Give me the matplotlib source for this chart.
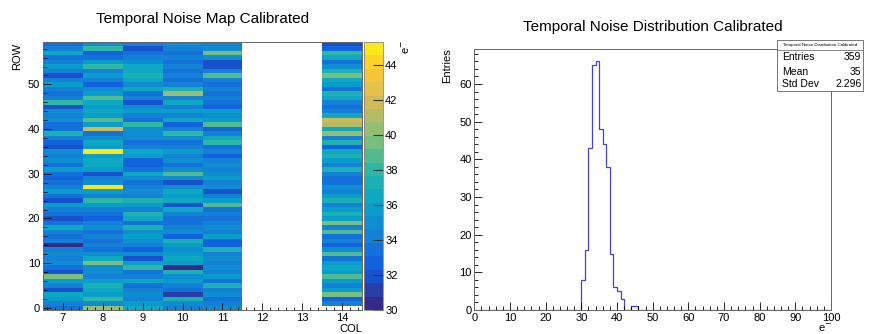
import numpy as np
import matplotlib
matplotlib.use("Agg")
import matplotlib.pyplot as plt
from matplotlib.colors import LinearSegmentedColormap, ListedColormap, BoundaryNorm
from matplotlib.patches import Rectangle
from matplotlib.lines import Line2D
from matplotlib.ticker import MultipleLocator

plt.rcParams['font.family'] = ['Liberation Sans', 'DejaVu Sans']

nan = np.nan

# ---------------- temporal noise map (e-), one list per column, rows 0..59 ----------------
columns = [7, 8, 9, 10, 11, 12, 13, 14]
n_rows = 60

noise_col7 = [33.3, 33.9, 35.6, 36.3, 32.0, 33.9, 35.6, 39.6, 32.0, 33.3,
              35.0, 33.9, 35.0, 34.5, 30.6, 33.9, 33.3, 33.9, 36.3, 33.8,
              32.0, 33.3, 33.9, 35.6, 32.1, 33.4, 35.6, 33.9, 33.8, 32.8,
              33.3, 35.6, 33.3, 35.0, 33.9, 35.0, 32.0, 32.8, 33.9, 36.9,
              33.3, 33.4, 35.0, 33.9, 35.0, 31.6, 38.2, 33.9, 33.3, 33.9,
              35.6, 33.9, 31.6, 34.5, 35.6, 33.9, 33.3, 36.3, 33.9, 33.3]
noise_col8 = [40.6, 35.0, 38.2, 35.6, 36.3, 36.9, 35.6, 33.9, 35.0, 35.1,
              39.6, 36.3, 35.0, 33.3, 33.9, 33.4, 33.9, 33.8, 35.0, 33.9,
              32.8, 33.3, 33.9, 35.6, 38.2, 33.9, 35.6, 45.3, 35.0, 33.9,
              31.6, 35.6, 36.3, 36.2, 35.6, 44.6, 35.6, 36.3, 35.0, 33.3,
              41.8, 35.6, 38.6, 35.6, 36.3, 35.6, 36.3, 38.6, 35.6, 35.0,
              32.8, 33.9, 35.6, 33.9, 38.2, 35.6, 33.3, 32.8, 38.2, 35.0]
noise_col9 = [36.3, 35.6, 33.9, 35.0, 33.9, 33.3, 36.3, 33.9, 33.3, 38.2,
              35.6, 31.6, 35.0, 32.8, 33.9, 35.0, 35.6, 35.0, 37.4, 33.3,
              36.3, 36.9, 33.9, 35.6, 36.9, 33.9, 35.0, 33.9, 33.8, 35.0,
              36.3, 33.3, 32.8, 32.9, 35.6, 36.3, 33.9, 33.8, 35.0, 35.0,
              35.1, 38.2, 33.3, 33.9, 35.6, 35.0, 31.6, 33.9, 33.8, 36.3,
              35.0, 36.3, 36.9, 36.8, 36.3, 35.0, 33.9, 33.8, 32.0, 33.9]
noise_col10 = [33.9, 35.0, 36.9, 31.0, 33.3, 33.9, 35.6, 35.0, 37.4, 30.6,
               35.6, 36.3, 35.6, 35.0, 35.6, 36.9, 32.8, 35.0, 33.9, 33.8,
               33.3, 33.9, 36.3, 32.0, 36.3, 35.6, 36.3, 35.0, 32.0, 35.0,
               38.6, 35.0, 33.3, 35.0, 33.9, 35.6, 33.9, 33.3, 35.0, 38.2,
               33.9, 32.8, 36.3, 33.9, 35.6, 33.9, 36.3, 33.9, 40.6, 37.4,
               33.9, 33.8, 33.9, 33.3, 33.9, 33.3, 33.9, 33.8, 33.9, 35.0]
noise_col11 = [35.0, 33.9, 33.3, 35.0, 33.9, 36.9, 33.3, 35.6, 33.9, 35.0,
               33.9, 35.0, 33.9, 36.9, 32.8, 32.8, 35.6, 33.9, 35.0, 33.9,
               33.3, 33.9, 33.8, 38.6, 35.6, 33.9, 32.0, 35.0, 33.9, 35.6,
               35.0, 33.9, 35.0, 33.9, 32.8, 33.9, 33.8, 38.2, 36.3, 33.9,
               32.5, 38.6, 35.6, 35.0, 35.6, 32.8, 33.3, 33.9, 33.8, 33.9,
               33.3, 33.9, 38.6, 33.9, 31.6, 31.6, 35.0, 39.6, 35.0, 33.9]
noise_col12 = [nan] * n_rows
noise_col13 = [nan] * n_rows
noise_col14 = [nan, 33.9, 32.8, 39.6, 35.6, 33.9, 35.6, 38.6, 35.6, 36.3,
               35.6, 33.3, 38.6, 35.0, 32.5, 33.9, 33.3, 38.6, 33.9, 39.2,
               35.6, 36.9, 35.6, 33.9, 36.9, 35.6, 33.9, 35.0, 33.3, 33.3,
               33.9, 37.4, 33.9, 35.6, 37.4, 36.3, 32.8, 37.4, 33.9, 40.2,
               36.3, 41.2, 41.6, 36.3, 33.9, 33.3, 33.9, 36.3, 36.9, 33.3,
               35.6, 36.3, 39.6, 37.4, 35.0, 33.3, 36.3, 38.2, 32.8, 32.0]

# ---------------- noise distribution (1 e- bins, 0..100) ----------------
hist_first_bin = 30
hist_counts = [8, 16, 43, 65, 66, 48, 44, 38, 15, 6, 5, 3, 0, 0, 1, 1]
stats_entries = "359"
stats_mean = "35"
stats_stddev = "2.296"

# ---------------- ROOT "bird" palette, 20 contour levels ----------------
bird_stops = [0.0, 0.125, 0.25, 0.375, 0.5, 0.625, 0.75, 0.875, 1.0]
bird_r = [0.2082, 0.0592, 0.0780, 0.0232, 0.1802, 0.5301, 0.8186, 0.9956, 0.9764]
bird_g = [0.1664, 0.3599, 0.5041, 0.6419, 0.7178, 0.7492, 0.7328, 0.7862, 0.9832]
bird_b = [0.5293, 0.8684, 0.8385, 0.7914, 0.6425, 0.4662, 0.3499, 0.1968, 0.0539]
bird = LinearSegmentedColormap.from_list(
    "bird", list(zip(bird_stops, zip(bird_r, bird_g, bird_b))), N=255)
n_levels = 20
z_min, z_max = 30.0, 45.3
level_cmap = ListedColormap([bird(int(0.01 + i * 255 / n_levels)) for i in range(n_levels)])
level_cmap.set_bad("white")
norm = BoundaryNorm(np.linspace(z_min, z_max, n_levels + 1), n_levels)

# ---------------- figure layout (pixel boxes) ----------------
W, H = 871, 334
fig = plt.figure(figsize=(W / 100, H / 100), dpi=100)


def box(x0, y0, x1, y1):
    return [x0 / W, 1 - y1 / H, (x1 - x0) / W, (y1 - y0) / H]


ax_map = fig.add_axes(box(43, 42, 362, 310))
ax_cb = fig.add_axes(box(363.5, 42, 383, 310))
ax_h = fig.add_axes(box(474.3, 49, 831, 310))

frame_color = "#666666"
tick_kw = dict(direction="in", color="black", width=0.6, labelsize=8, pad=2)

# ---------------- noise map ----------------
grid = np.array([noise_col7, noise_col8, noise_col9, noise_col10, noise_col11,
                 noise_col12, noise_col13, noise_col14], dtype=float).T
x_edges = np.arange(columns[0] - 0.5, columns[-1] + 1.0, 1.0)
y_edges = np.arange(-0.5, n_rows, 1.0)
mesh = ax_map.pcolormesh(x_edges, y_edges, np.ma.masked_invalid(grid),
                         cmap=level_cmap, norm=norm, shading="flat")
ax_map.set_xlim(x_edges[0], x_edges[-1])
ax_map.set_ylim(y_edges[0], y_edges[-1])
ax_map.set_xticks(columns)
ax_map.set_yticks([0, 10, 20, 30, 40, 50])
ax_map.xaxis.set_minor_locator(MultipleLocator(0.2))
ax_map.yaxis.set_minor_locator(MultipleLocator(2))
ax_map.tick_params(which="both", top=False, right=False, **tick_kw)
ax_map.tick_params(which="major", length=6)
ax_map.tick_params(which="minor", length=3)
ax_map.tick_params(axis="x", which="major", length=5)
ax_map.tick_params(axis="x", which="minor", length=2.5)
for s in ax_map.spines.values():
    s.set_color(frame_color)
    s.set_linewidth(0.7)

cb = fig.colorbar(mesh, cax=ax_cb, ticks=list(range(30, 45, 2)))
cb.ax.tick_params(direction="in", length=7, width=0.8, color="#333333",
                  labelsize=8, pad=1.5)
cb.minorticks_off()
cb.outline.set_edgecolor("#888888")
cb.outline.set_linewidth(0.6)

fig.text(203 / W, 1 - 19 / H, "Temporal Noise Map Calibrated", ha="center",
         va="center", fontsize=11)
fig.text(17 / W, 1 - 43 / H, "ROW", rotation=90, ha="center", va="top", fontsize=8)
fig.text(362 / W, 1 - 329 / H, "COL", ha="right", va="center", fontsize=8)
fig.text(406 / W, 1 - 47 / H, "e$^{-}$", rotation=90, ha="center", va="center",
         fontsize=8)

# ---------------- distribution ----------------
hist_edges = np.arange(0, 101, 1)
full_counts = np.zeros(len(hist_edges) - 1)
full_counts[hist_first_bin:hist_first_bin + len(hist_counts)] = hist_counts
ax_h.stairs(full_counts, hist_edges, color="#4444c4", linewidth=0.9)
ax_h.set_xlim(0, 100)
ax_h.set_ylim(0, max(hist_counts) * 1.05)
ax_h.set_xticks(range(0, 101, 10))
ax_h.set_yticks(range(0, 61, 10))
ax_h.xaxis.set_minor_locator(MultipleLocator(2))
ax_h.yaxis.set_minor_locator(MultipleLocator(2))
ax_h.tick_params(which="both", top=False, right=False, **tick_kw)
ax_h.tick_params(which="major", length=6)
ax_h.tick_params(which="minor", length=3.2)
for s in ax_h.spines.values():
    s.set_color(frame_color)
    s.set_linewidth(0.7)

fig.text(652.5 / W, 1 - 27 / H, "Temporal Noise Distribution Calibrated",
         ha="center", va="center", fontsize=11)
fig.text(447 / W, 1 - 48 / H, "Entries", rotation=90, ha="center", va="top",
         fontsize=8)
fig.text(825 / W, 1 - 328 / H, "e$^{-}$", ha="center", va="center", fontsize=8)

# statistics box
bx0, by0, bx1, by1 = 776.7, 40, 863, 90.7
fig.add_artist(Rectangle((bx0 / W, 1 - by1 / H), (bx1 - bx0) / W, (by1 - by0) / H,
                         transform=fig.transFigure, facecolor="white",
                         edgecolor="#777777", linewidth=0.7, zorder=5))
fig.add_artist(Line2D([bx0 / W, bx1 / W], [1 - 50 / H, 1 - 50 / H],
                      transform=fig.transFigure, color="#777777", linewidth=0.6,
                      zorder=6))
fig.text((bx0 + bx1) / 2 / W, 1 - 45 / H, "Temporal Noise Distribution Calibrated",
         ha="center", va="center", fontsize=3.2, zorder=7)
stat_rows = [("Entries", stats_entries, 57.3), ("Mean", stats_mean, 71.7),
             ("Std Dev", stats_stddev, 84.3)]
for name, value, yy in stat_rows:
    fig.text(781.7 / W, 1 - yy / H, name, ha="left", va="center", fontsize=7.5,
             zorder=7)
    fig.text(861.5 / W, 1 - yy / H, value, ha="right", va="center", fontsize=7.5,
             zorder=7)

fig.savefig("out.png", dpi=100)
